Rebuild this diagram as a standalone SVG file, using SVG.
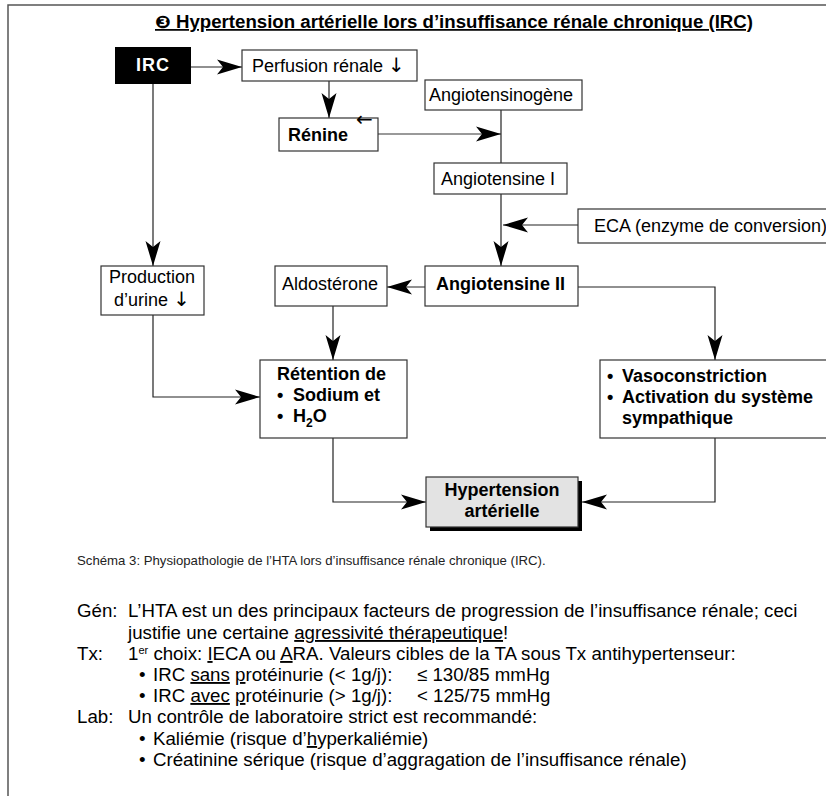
<svg xmlns="http://www.w3.org/2000/svg" width="826" height="796" viewBox="0 0 826 796">
<defs>
<marker id="ah" markerUnits="userSpaceOnUse" markerWidth="28" markerHeight="18" viewBox="-27 -9 28 18" refX="0" refY="0" orient="auto">
<path d="M0,0 L-25,-7.5 L-19,0 L-25,7.5 Z" fill="#000"/>
</marker>
<style>
text{font-family:"Liberation Sans",Arial,"DejaVu Sans",sans-serif;fill:#000}
.box{fill:#fff;stroke:#333;stroke-width:1.2}
.r{font-size:18px}
.b{font-size:18px;font-weight:bold}
.body{font-size:18.7px}
.c{fill:none;stroke:#222;stroke-width:1.2}
.g{fill:none;stroke:#777;stroke-width:1.4}
.u{text-decoration:underline}
.arr{font-family:"DejaVu Sans",sans-serif;font-size:20px}
</style>
</defs>
<rect width="826" height="796" fill="#fff"/>
<path d="M8,796 V5 H826" fill="none" stroke="#555" stroke-width="1.5"/>
<text x="155" y="28" textLength="598" lengthAdjust="spacingAndGlyphs" style="font-size:17.5px;font-weight:bold;text-decoration:underline">❸ Hypertension artérielle lors d’insuffisance rénale chronique (IRC)</text>

<g id="connectors">
<path class="c" d="M191,67 H242" marker-end="url(#ah)"/>
<path class="c" d="M329,81 V118" marker-end="url(#ah)"/>
<path class="g" d="M378,134 H501" marker-end="url(#ah)"/>
<path class="c" d="M501,110 V163"/>
<path class="c" d="M501,194 V266" marker-end="url(#ah)"/>
<path class="c" d="M578,225 H503" marker-end="url(#ah)"/>
<path class="c" d="M425,287 H387" marker-end="url(#ah)"/>
<path class="c" d="M333,306 V360" marker-end="url(#ah)"/>
<path class="c" d="M153,84 V266" marker-end="url(#ah)"/>
<path class="c" d="M153,315 V397 H260" marker-end="url(#ah)"/>
<path class="c" d="M578,287 H715 V360" marker-end="url(#ah)"/>
<path class="c" d="M333,438 V502 H426" marker-end="url(#ah)"/>
<path class="c" d="M715,438 V502 H582" marker-end="url(#ah)"/>
</g>

<g id="irc">
<rect x="115" y="47" width="76" height="37" fill="#000"/>
<text x="153" y="71" text-anchor="middle" style="font-size:18px;font-weight:bold;fill:#fff;letter-spacing:1px">IRC</text>
</g>
<g id="perfusion">
<rect class="box" x="242" y="50" width="175" height="31"/>
<text class="r" x="252" y="72">Perfusion rénale <tspan class="arr">↓</tspan></text>
</g>
<g id="renine">
<rect class="box" x="279" y="118" width="99" height="33"/>
<text class="b" x="288" y="141">Rénine</text>
<text x="356" y="126" class="arr">←</text>
</g>
<g id="angiotensinogene">
<rect class="box" x="425" y="80" width="157" height="30"/>
<text class="r" x="429" y="101">Angiotensinogène</text>
</g>
<g id="angiotensine1">
<rect class="box" x="434" y="163" width="133" height="31"/>
<text class="r" x="441" y="185">Angiotensine I</text>
</g>
<g id="eca">
<rect class="box" x="578" y="209" width="250" height="34"/>
<text class="r" x="594" y="232">ECA (enzyme de conversion)</text>
</g>
<g id="angiotensine2">
<rect class="box" x="425" y="266" width="153" height="40"/>
<text class="b" x="436" y="290">Angiotensine II</text>
</g>
<g id="aldosterone">
<rect class="box" x="275" y="266" width="112" height="40"/>
<text class="r" x="282" y="290">Aldostérone</text>
</g>
<g id="production">
<rect class="box" x="101" y="266" width="103" height="49"/>
<text class="r" x="152" y="283" text-anchor="middle">Production</text>
<text class="r" x="152" y="306" text-anchor="middle">d’urine <tspan class="arr">↓</tspan></text>
</g>
<g id="retention">
<rect class="box" x="260" y="360" width="147" height="78"/>
<text class="b" x="277" y="380">Rétention de</text>
<text class="b" x="277" y="401">•</text>
<text class="b" x="293" y="401">Sodium et</text>
<text class="b" x="277" y="422">•</text>
<text class="b" x="293" y="422">H<tspan dy="5" style="font-size:12px">2</tspan><tspan dy="-5">O</tspan></text>
</g>
<g id="vaso">
<rect class="box" x="600" y="360" width="228" height="78"/>
<text class="b" x="607" y="382">•</text>
<text class="b" x="622" y="382">Vasoconstriction</text>
<text class="b" x="607" y="403">•</text>
<text class="b" x="622" y="403">Activation du système</text>
<text class="b" x="622" y="424">sympathique</text>
</g>
<g id="hypertension">
<rect x="430" y="481" width="152" height="50" fill="#000"/>
<rect x="426" y="477" width="152" height="50" fill="#e3e3e3" stroke="#333" stroke-width="1.2"/>
<text class="b" x="502" y="496" text-anchor="middle">Hypertension</text>
<text class="b" x="502" y="517" text-anchor="middle">artérielle</text>
</g>

<text x="77" y="565" style="font-size:13.2px;fill:#222">Schéma 3: Physiopathologie de l’HTA lors d’insuffisance rénale chronique (IRC).</text>

<g id="notes">
<text class="body" x="77" y="617">Gén:</text>
<text class="body" x="128" y="617">L’HTA est un des principaux facteurs de progression de l’insuffisance rénale; ceci</text>
<text class="body" x="128" y="639">justifie une certaine <tspan class="u">agressivité thérapeutique</tspan>!</text>
<text class="body" x="77" y="660">Tx:</text>
<text class="body" x="128" y="660">1<tspan dy="-6" style="font-size:11px">er</tspan><tspan dy="6"> choix: </tspan><tspan class="u">I</tspan>ECA ou <tspan class="u">A</tspan>RA. Valeurs cibles de la TA sous Tx antihypertenseur:</text>
<text class="body" x="139" y="681">•</text>
<text class="body" x="153" y="681">IRC <tspan class="u">sans</tspan> <tspan class="u">p</tspan>rotéinurie (&lt; 1g/j):</text>
<text class="body" x="417" y="681">≤ 130/85 mmHg</text>
<text class="body" x="139" y="702">•</text>
<text class="body" x="153" y="702">IRC <tspan class="u">avec</tspan> <tspan class="u">p</tspan>rotéinurie (&gt; 1g/j):</text>
<text class="body" x="417" y="702">&lt; 125/75 mmHg</text>
<text class="body" x="77" y="723">Lab:</text>
<text class="body" x="128" y="723">Un contrôle de laboratoire strict est recommandé:</text>
<text class="body" x="139" y="745">•</text>
<text class="body" x="153" y="745">Kaliémie (risque d’<tspan class="u">h</tspan>yperkaliémie)</text>
<text class="body" x="139" y="766">•</text>
<text class="body" x="153" y="766">Créatinine sérique (risque d’aggragation de l’insuffisance rénale)</text>
</g>
</svg>
